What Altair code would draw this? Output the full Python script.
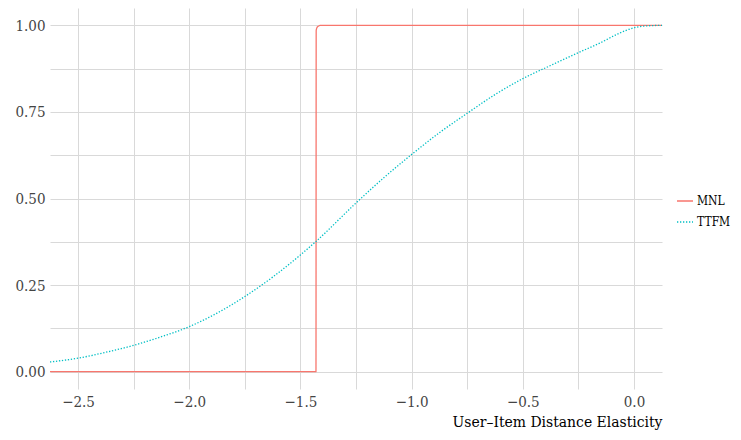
import altair as alt
import pandas as pd

# MNL empirical CDF (step near -1.43)
mnl_x = [-2.626, -1.430, -1.429, -1.425, -1.418, -1.410, 0.126]
mnl_p = [0.0, 0.0, 0.985, 0.994, 0.998, 1.0, 1.0]

# TTFM empirical CDF (smooth)
ttfm_x = [-2.626, -2.5, -2.375, -2.25, -2.125, -2.0, -1.875, -1.75, -1.625, -1.5, -1.43,
          -1.25, -1.125, -1.0, -0.875, -0.75, -0.625, -0.5, -0.375, -0.25, -0.15,
          -0.063, 0.0, 0.05, 0.126]
ttfm_p = [0.028, 0.039, 0.056, 0.076, 0.101, 0.130, 0.169, 0.217, 0.273, 0.337, 0.376,
          0.487, 0.560, 0.627, 0.690, 0.746, 0.800, 0.846, 0.884, 0.921, 0.950,
          0.978, 0.993, 0.998, 1.0]

series = ["MNL", "TTFM"]
colors = ["#F8766D", "#00BFC4"]

x_values = [-2.5, -2.25, -2.0, -1.75, -1.5, -1.25, -1.0, -0.75, -0.5, -0.25, 0.0]
y_values = [0.0, 0.125, 0.25, 0.375, 0.5, 0.625, 0.75, 0.875, 1.0]

rows = []
for i, (x, p) in enumerate(zip(mnl_x, mnl_p)):
    rows.append({"x": x, "p": p, "series": "MNL", "order": i})
for i, (x, p) in enumerate(zip(ttfm_x, ttfm_p)):
    rows.append({"x": x, "p": p, "series": "TTFM", "order": i})
df = pd.DataFrame(rows)

FONT = "DejaVu Serif Condensed"

legend_kw = dict(title=None, orient="none", legendX=626, legendY=184,
                 symbolType="stroke", symbolSize=256, symbolStrokeWidth=1.3,
                 labelFont=FONT, labelFontSize=12, labelColor="#000000",
                 rowPadding=6, labelOffset=3, padding=0)

chart = alt.Chart(df).mark_line(strokeWidth=1.3, clip=True, interpolate="monotone").encode(
    x=alt.X("x:Q",
            scale=alt.Scale(domain=[-2.626, 0.126], nice=False, zero=False),
            axis=alt.Axis(title="User\u2013Item Distance Elasticity", values=x_values,
                          labelExpr="abs(datum.value*2 - round(datum.value*2)) < 0.001 ? format(datum.value, '.1f') : ''",
                          titleAnchor="end", titleAlign="right")),
    y=alt.Y("p:Q",
            scale=alt.Scale(domain=[-0.05, 1.05], nice=False, zero=False),
            axis=alt.Axis(title=None, values=y_values,
                          labelExpr="abs(datum.value*4 - round(datum.value*4)) < 0.001 ? format(datum.value, '.2f') : ''")),
    color=alt.Color("series:N", scale=alt.Scale(domain=series, range=colors),
                    legend=alt.Legend(**legend_kw)),
    strokeDash=alt.StrokeDash("series:N", scale=alt.Scale(domain=series, range=[[1, 0], [1.3, 1.7]]),
                              legend=alt.Legend(**legend_kw)),
    order="order:Q",
).properties(
    width=612, height=381,
    autosize=alt.AutoSizeParams(type="none"),
    padding={"left": 42, "top": 0, "right": 70, "bottom": 43}
).configure_view(
    stroke=None
).configure_axis(
    grid=True, gridColor="#d9d9d9", gridWidth=1, domain=False, ticks=False,
    labelFont=FONT, labelFontSize=15, labelColor="#444444", labelPadding=5,
    titleFont=FONT, titleFontSize=15.5, titleColor="#000000", titleFontWeight="normal",
    titlePadding=5
)

chart.save("out.html", embed_options={"renderer": "svg", "actions": False})
